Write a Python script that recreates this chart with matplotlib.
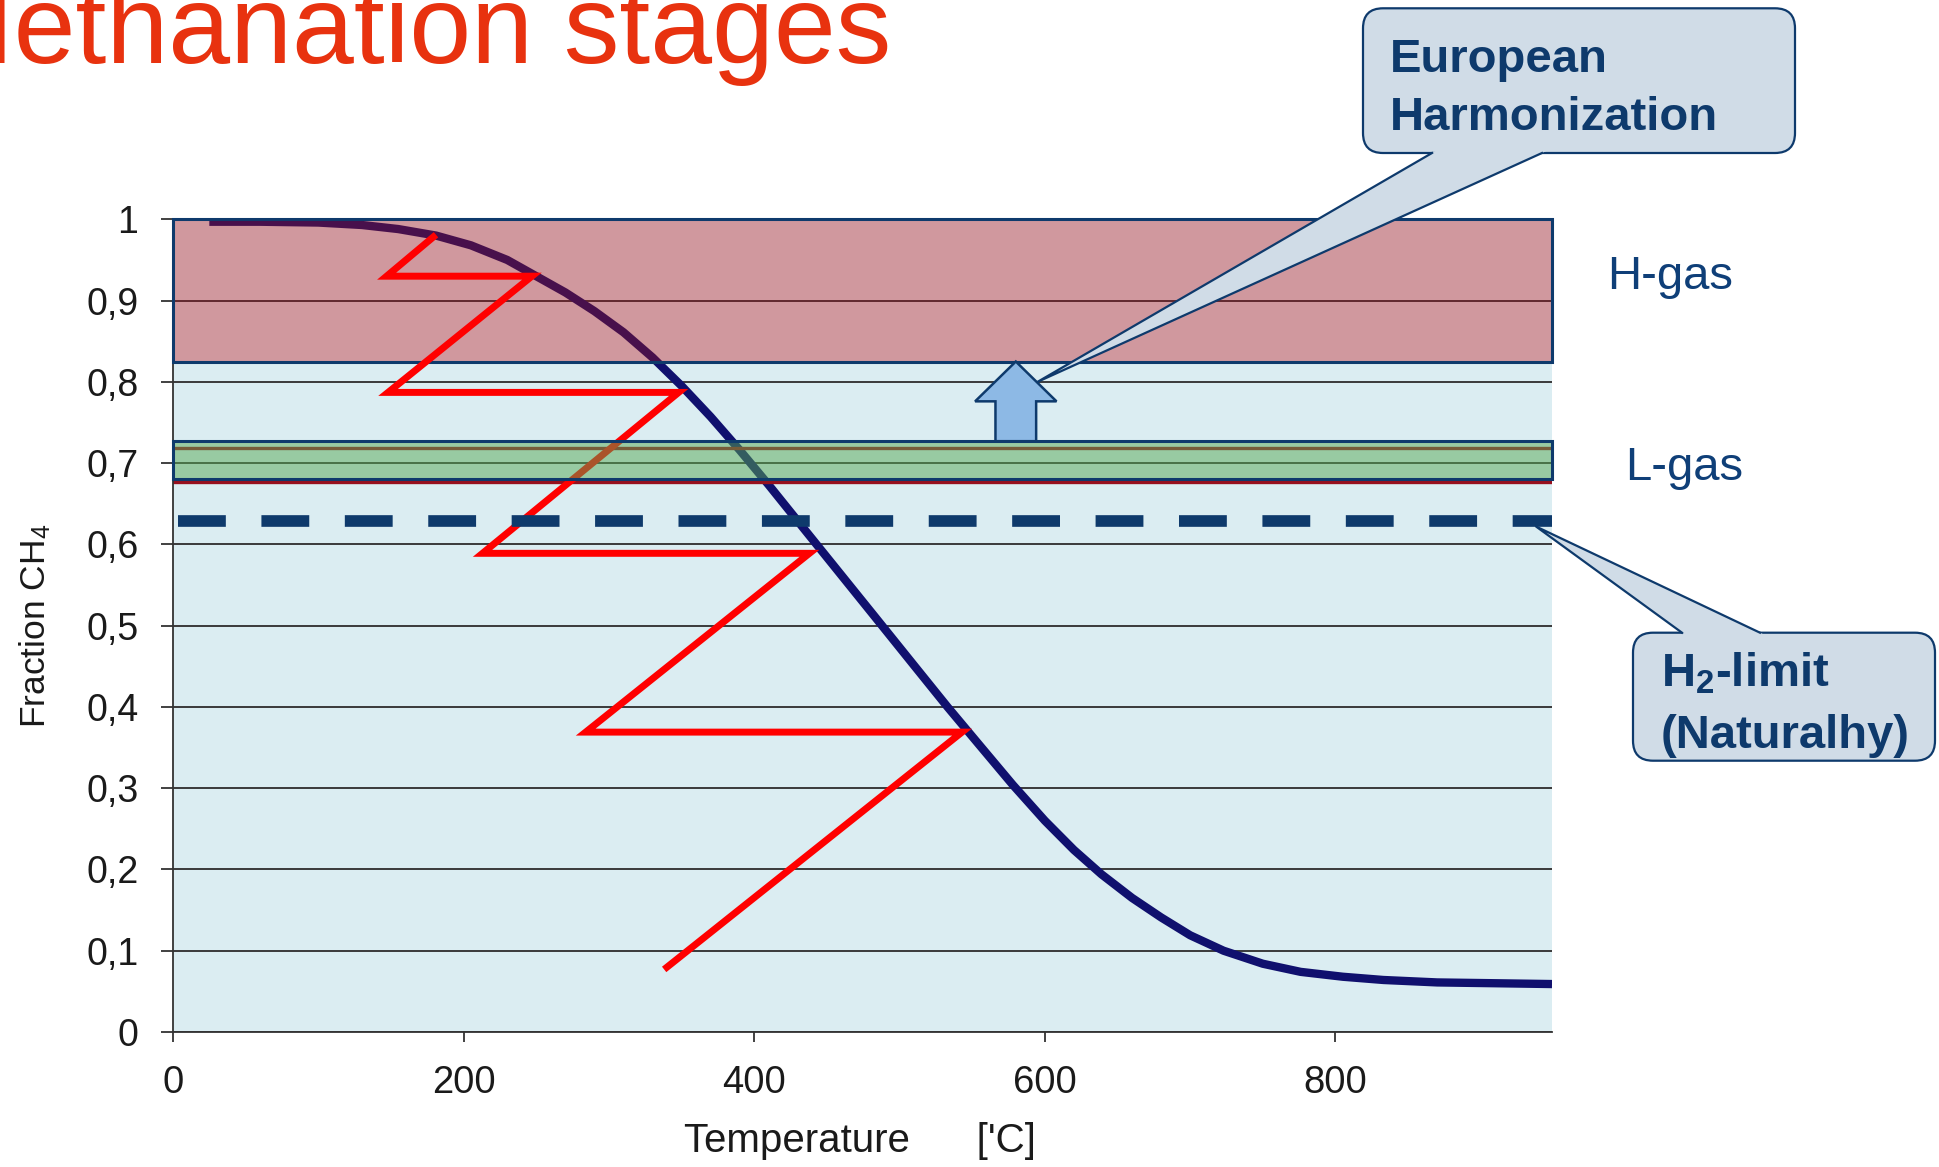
import matplotlib
matplotlib.use('Agg')

import matplotlib.pyplot as plt
from matplotlib.patches import Rectangle, Polygon, FancyBboxPatch
from matplotlib.lines import Line2D

W, H = 1939, 1167

# equilibrium CH4 fraction over temperature
eq_temp = [25, 60, 100, 130, 155, 181, 205, 230, 250, 270, 290, 310, 330,
	350, 370, 390, 410, 437, 460, 483, 510, 533, 555, 578, 600, 620, 639,
	660, 680, 700, 723, 750, 776, 805, 833, 870, 910, 949]
eq_ch4 = [0.997, 0.997, 0.996, 0.993, 0.988, 0.980, 0.968, 0.950, 0.930,
	0.910, 0.887, 0.861, 0.830, 0.795, 0.757, 0.716, 0.673, 0.613, 0.562,
	0.511, 0.451, 0.400, 0.353, 0.304, 0.260, 0.224, 0.194, 0.165, 0.141,
	0.119, 0.100, 0.084, 0.074, 0.068, 0.064, 0.061, 0.060, 0.059]

# reactor stages with intercooling, first stage at the bottom
stage_temp = [338, 543, 284, 438, 213, 348, 148, 247, 147, 181]
stage_ch4 = [0.077, 0.369, 0.369, 0.589, 0.589, 0.787, 0.787, 0.930, 0.930, 0.981]

h_gas = (0.825, 1.0)
l_gas = (0.680, 0.727)
l_gas_lines = [0.677, 0.718]
h2_limit = 0.629
t_max = 949

x_ticks = [0, 200, 400, 600, 800]
y_ticks = [0, 0.1, 0.2, 0.3, 0.4, 0.5, 0.6, 0.7, 0.8, 0.9, 1.0]
y_tick_labels = ['0', '0,1', '0,2', '0,3', '0,4', '0,5', '0,6', '0,7', '0,8', '0,9', '1']

# upward arrow between the gas bands
arrow_x = 580
arrow_head = (0.776, 28)
arrow_shaft = 14

NAVY = '#0e3a6c'
BOX_FILL = '#d0dce7'
LABEL = '#0f3f78'


def fig_xy(x, y):
	# pixel position from the top left corner -> figure fraction
	return x / W, 1 - y / H


def callout(fig, box, base, tip, lines):
	x0, y0, x1, y1 = box
	patch = FancyBboxPatch((x0, H - y1), x1 - x0, y1 - y0,
		boxstyle='round,pad=0,rounding_size=20', transform=None,
		facecolor=BOX_FILL, edgecolor=NAVY, linewidth=1.6, zorder=10)
	fig.add_artist(patch)

	# tail from the box edge to the tip
	bx0, bx1, by = base
	by = H - by
	inset = 5 if by < H - (y0 + y1) / 2 else -5
	tx, ty = tip
	def along(bx, y):
		t = (y - ty) / (by - ty)
		return tx + (bx - tx) * t
	fill = [(along(bx0, by + inset), by + inset), (tx, ty), (along(bx1, by + inset), by + inset)]
	fig.add_artist(Polygon(fill, closed=True, transform=None,
		facecolor=BOX_FILL, edgecolor='none', zorder=11))
	fig.add_artist(Line2D([bx0, tx, bx1], [by, ty, by], transform=None,
		color=NAVY, linewidth=1.6, zorder=12))

	for x, y, s in lines:
		fx, fy = fig_xy(x, y)
		fig.text(fx, fy, s, fontsize=34, fontweight='bold', color=NAVY,
			va='baseline', ha='left', zorder=13)


def draw():
	plt.rcParams['font.family'] = ['Liberation Sans', 'DejaVu Sans']
	plt.rcParams['mathtext.fontset'] = 'custom'
	plt.rcParams['mathtext.rm'] = 'Liberation Sans'
	plt.rcParams['mathtext.it'] = 'Liberation Sans:italic'
	plt.rcParams['mathtext.bf'] = 'Liberation Sans:bold'

	fig = plt.figure(figsize=(W / 100, H / 100), dpi=100)
	ax = fig.add_axes([173 / W, 1 - 1032 / H, (1552 - 173) / W, (1032 - 219.3) / H])
	ax.set_facecolor('#dbedf2')
	ax.set_xlim(0, t_max)
	ax.set_ylim(0, 1)

	ax.set_axisbelow(True)
	ax.yaxis.grid(True, color='#3a3a3a', linewidth=1.4)
	ax.set_xticks(x_ticks)
	ax.set_yticks(y_ticks)
	ax.set_yticklabels(y_tick_labels)
	ax.tick_params(axis='y', length=9, width=1.3, color='#333333', pad=16,
		labelsize=27, labelcolor='#1a1a1a')
	ax.tick_params(axis='x', length=7, width=1.3, color='#333333', pad=17,
		labelsize=27.5, labelcolor='#1a1a1a')
	for side in ['top', 'right']:
		ax.spines[side].set_visible(False)
	for side in ['left', 'bottom']:
		ax.spines[side].set_color('#333333')
		ax.spines[side].set_linewidth(1.3)

	# white under the H-gas band
	ax.add_patch(Rectangle((0, h_gas[0]), t_max, h_gas[1] - h_gas[0],
		facecolor='white', edgecolor='none', zorder=0.2))

	ax.plot(eq_temp, eq_ch4, color='#10106e', linewidth=6,
		solid_capstyle='butt', solid_joinstyle='round', zorder=2)
	for y in l_gas_lines:
		ax.axhline(y, color='#96101e', linewidth=2.4, zorder=2)

	ax.add_patch(Rectangle((0, h_gas[0]), t_max, h_gas[1] - h_gas[0],
		facecolor=(147 / 255, 18 / 255, 32 / 255, 0.434), edgecolor=NAVY,
		linewidth=2.2, zorder=3, clip_on=False))

	ax.plot(stage_temp, stage_ch4, color='#ff0000', linewidth=5,
		solid_joinstyle='miter', solid_capstyle='butt', zorder=4)

	ax.add_patch(Rectangle((0, l_gas[0]), t_max, l_gas[1] - l_gas[0],
		facecolor=(87 / 255, 169 / 255, 84 / 255, 0.5), edgecolor=NAVY,
		linewidth=2.2, zorder=5, clip_on=False))

	ax.plot([3.4, t_max], [h2_limit, h2_limit], color=NAVY, linewidth=8.4,
		dashes=(4.1, 3.05), dash_capstyle='butt', zorder=6)

	head_y, head_w = arrow_head
	arrow = [
		(arrow_x - arrow_shaft, l_gas[1]), (arrow_x - arrow_shaft, head_y),
		(arrow_x - head_w, head_y), (arrow_x, h_gas[0]),
		(arrow_x + head_w, head_y), (arrow_x + arrow_shaft, head_y),
		(arrow_x + arrow_shaft, l_gas[1]),
	]
	ax.add_patch(Polygon(arrow, closed=True, facecolor='#8db9e5',
		edgecolor=NAVY, linewidth=1.8, zorder=6))

	# band labels
	ax.text(987, 0.914, 'H-gas', fontsize=34, color=LABEL, va='baseline',
		ha='left', clip_on=False)
	ax.text(999, 0.679, 'L-gas', fontsize=34, color=LABEL, va='baseline',
		ha='left', clip_on=False)

	fx, fy = fig_xy(35, 625.7)
	fig.text(fx, fy, 'Fraction CH$_4$', fontsize=25.5, rotation=90,
		color='#1a1a1a', va='center', ha='center')
	fx, fy = fig_xy(859.5, 1152)
	fig.text(fx, fy, "Temperature      ['C]", fontsize=29, color='#1a1a1a',
		va='baseline', ha='center')

	fx, fy = fig_xy(-79, 63)
	fig.text(fx, fy, 'Methanation stages', fontsize=80, color='#e8320f',
		va='baseline', ha='left')

	fig.canvas.draw()
	tip1 = ax.transData.transform((595, 0.80))
	tip2 = ax.transData.transform((938, 0.622))
	callout(fig, (1363, 8.3, 1795, 153), (1432, 1542, 153), tip1,
		[(1390, 72, 'European'), (1390, 130, 'Harmonization')])
	callout(fig, (1633, 632.7, 1935, 760.7), (1682, 1760, 632.7), tip2,
		[(1661, 686.7, 'H$_\\mathbf{2}$-limit'), (1661, 748, '(Naturalhy)')])

	fig.savefig('out.png', dpi=100)


if __name__ == "__main__":
	draw()
